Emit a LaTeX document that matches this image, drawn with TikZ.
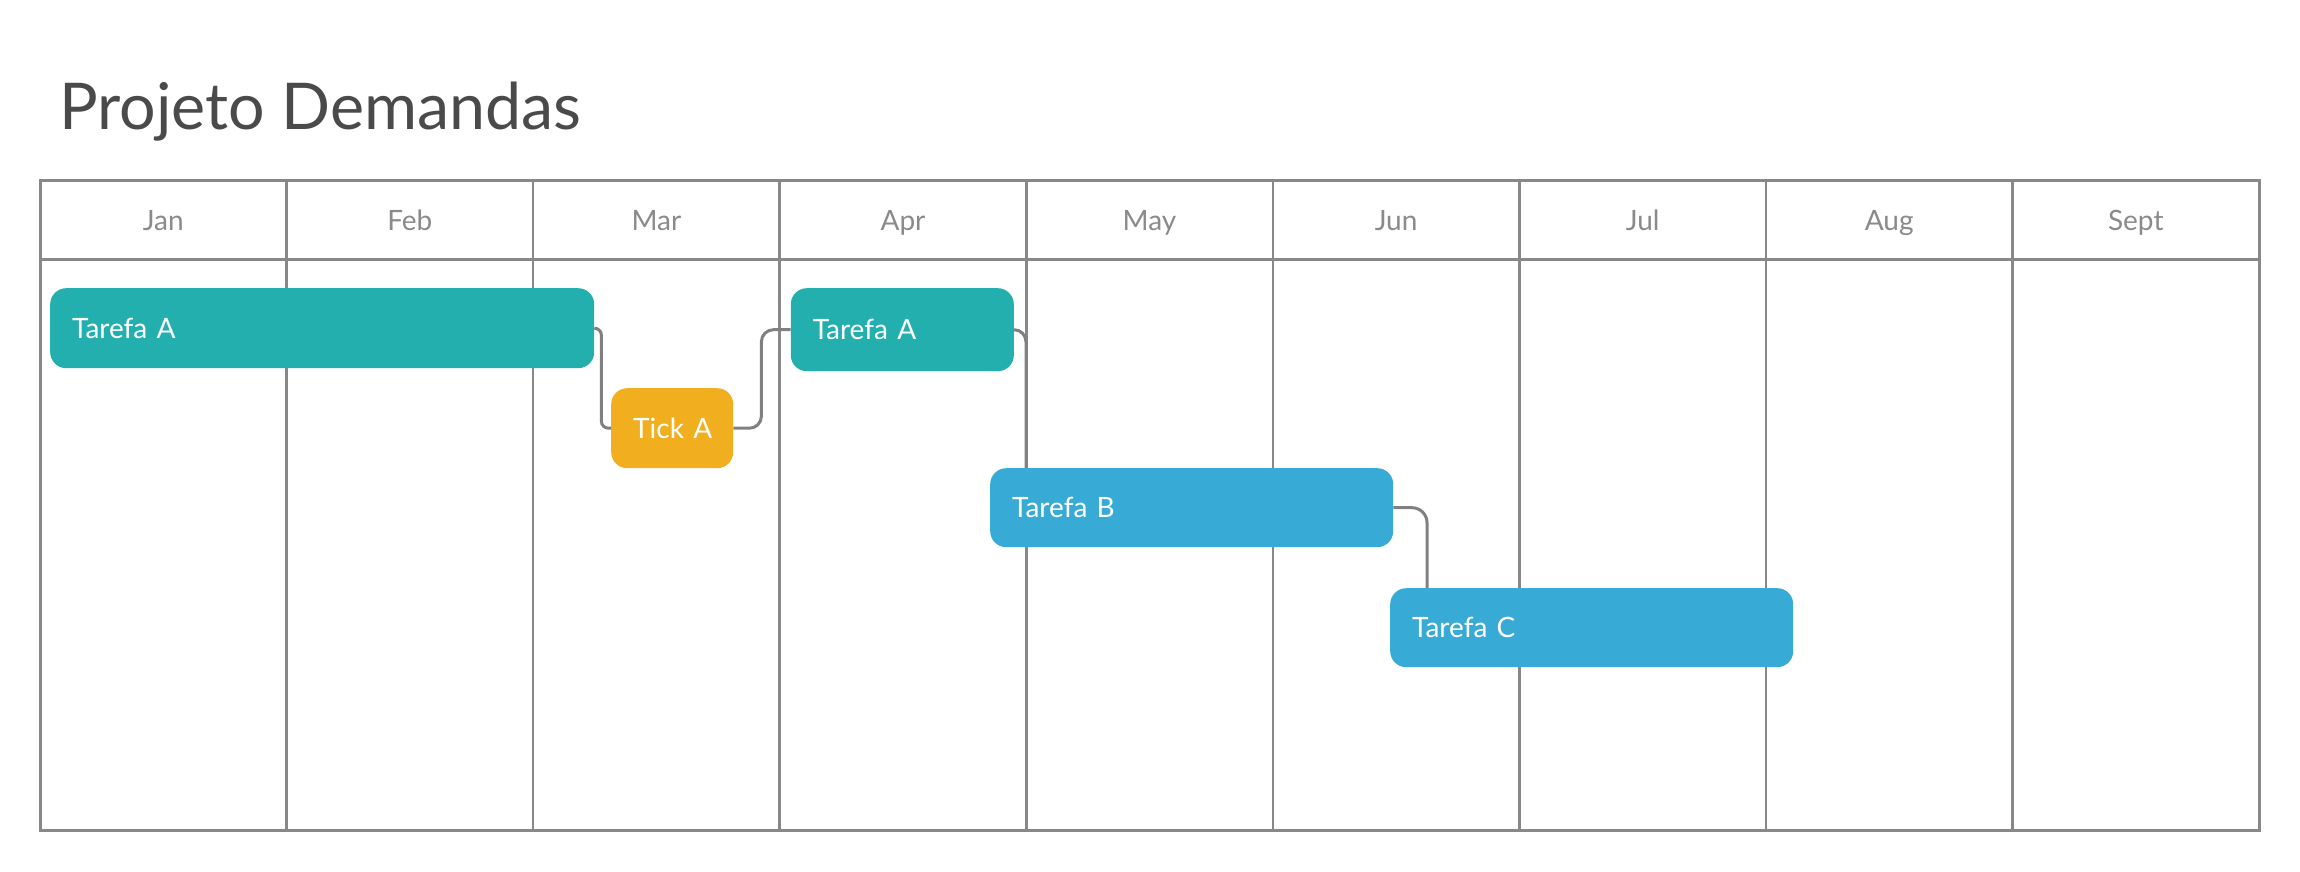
\documentclass[tikz,border=0pt]{standalone}
\usepackage{fontspec}
\setmainfont{Lato}
\usetikzlibrary{calc}
\definecolor{gridgray}{HTML}{888888}
\definecolor{conngray}{HTML}{808080}
\definecolor{titlegray}{HTML}{4A4A4A}
\definecolor{monthgray}{HTML}{8A8A8A}
\definecolor{tealbar}{HTML}{24AFAF}
\definecolor{bluebar}{HTML}{38AAD6}
\definecolor{yellowbar}{HTML}{F1AF1F}
\tikzset{
  gridline/.style={draw=gridgray, line width=2.5pt},
  monthlabel/.style={text=monthgray, font=\fontsize{28}{32}\selectfont, inner sep=0pt, anchor=base},
  barbox/.style={rounded corners=16pt, inner xsep=22pt, inner ysep=0pt, anchor=north west,
    text=white, align=left, font=\fontsize{28}{32}\selectfont},
  conn/.style={draw=conngray, line width=3pt},
}
\begin{document}
\begin{tikzpicture}[x=1pt,y=-1pt]
\useasboundingbox (0,0) rectangle (2300,872);
% title
\node[anchor=base west, inner sep=0pt, text=titlegray, font=\fontsize{64.5}{70}\selectfont] (title) at (59,130) {Projeto Demandas};
% grid
\draw[gridline, line width=3pt] (40,180) rectangle (2259,830);
\draw[gridline, line width=3pt] (40,259.5) -- (2259,259.5);
\foreach \i in {1,...,8} {
  \draw[gridline] ({40+\i*246.56},180) -- ({40+\i*246.56},830);
}
\foreach \m [count=\i from 0] in {Jan,Feb,Mar,Apr,May,Jun,Jul,Aug,Sept} {
  \node[monthlabel] (m\i) at ({40+(\i+0.5)*246.56},230) {\m};
}
% bars
\node[barbox, fill=tealbar, text width=500pt, minimum height=80pt] (a1) at (50,288) {Tarefa A};
\node[barbox, fill=yellowbar, text width=78pt, minimum height=80pt] (t1) at (611,388) {Tick~A};
\node[barbox, fill=tealbar, text width=179pt, minimum height=83pt] (a2) at (790.6,288) {Tarefa A};
\node[barbox, fill=bluebar, text width=359pt, minimum height=79pt] (b) at (990,468) {Tarefa B};
\node[barbox, fill=bluebar, text width=359pt, minimum height=79pt] (c) at (1390,588) {Tarefa C};
% connectors
\draw[conn, rounded corners=7pt] (a1.east) -- ++(7,0) |- (t1.west);
\draw[conn, rounded corners=12pt] (t1.east) -- ++(28,0) |- (a2.west);
\draw[conn, rounded corners=12pt] (a2.east) -| ([xshift=36pt]b.north west);
\draw[conn, rounded corners=15pt] (b.east) -| ([xshift=37pt]c.north west);
\end{tikzpicture}
\end{document}
